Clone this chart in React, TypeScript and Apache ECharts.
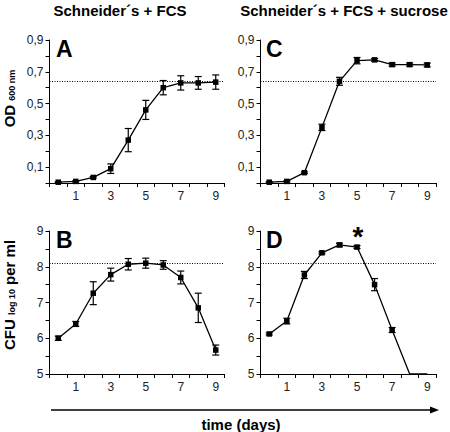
import React, { useEffect, useRef } from "react";
import * as echarts from "echarts";

// ---- data ----
const days = ["0", "1", "2", "3", "4", "5", "6", "7", "8", "9"];
const odFcs = [0.005, 0.01, 0.035, 0.09, 0.27, 0.46, 0.6, 0.63, 0.63, 0.635];
const odFcsErr = [0.003, 0.004, 0.005, 0.03, 0.073, 0.06, 0.045, 0.045, 0.04, 0.045];
const odSuc = [0.005, 0.01, 0.065, 0.35, 0.64, 0.77, 0.775, 0.745, 0.745, 0.743];
const odSucErr = [0.003, 0.004, 0.005, 0.02, 0.025, 0.02, 0.008, 0.01, 0.01, 0.012];
const cfuFcs = [6.0, 6.4, 7.26, 7.78, 8.07, 8.1, 8.05, 7.7, 6.85, 5.67];
const cfuFcsErr = [0.06, 0.07, 0.32, 0.18, 0.16, 0.14, 0.12, 0.18, 0.41, 0.14];
const cfuSuc = [6.12, 6.48, 7.77, 8.39, 8.61, 8.55, 7.5, 6.23, 5, 5];
const cfuSucErr: (number | null)[] = [0.03, 0.08, 0.1, 0.03, 0.05, 0.04, 0.17, 0.07, null, null];
const cfuSucMarker = [true, true, true, true, true, true, true, true, false, false];
const odThreshold = 0.635;
const cfuThreshold = 8.1;
const titles = ["Schneider\u00b4s + FCS", "Schneider\u00b4s + FCS + sucrose"];
const panelLetters = ["A", "B", "C", "D"];

const FONT = "'Liberation Sans', Arial, Helvetica, sans-serif";

export default function App() {
  const ref = useRef<HTMLDivElement>(null);
  useEffect(() => {
    if (!ref.current) return;
    const chart = echarts.init(ref.current, null, { renderer: "svg" });

    const grids = [
      { left: 49.5, top: 40, width: 175, height: 143 },
      { left: 49.5, top: 231, width: 175, height: 143 },
      { left: 260.5, top: 40, width: 175.5, height: 143 },
      { left: 260.5, top: 231, width: 175.5, height: 143 },
    ];

    const xAxes = grids.map((_, i) => ({
      type: "category",
      gridIndex: i,
      data: days,
      boundaryGap: true,
      axisLine: { show: true, lineStyle: { color: "#000", width: 1 } },
      axisTick: { show: true, interval: 0, length: 4, lineStyle: { color: "#000" } },
      axisLabel: {
        interval: (idx: number) => idx % 2 === 1,
        margin: 7,
        fontSize: 12,
        color: "#222",
        fontFamily: FONT,
      },
      splitLine: { show: false },
    }));

    const odFormatter = (v: number) => {
      const k = Math.round(v * 10);
      return k % 2 === 1 ? (k / 10).toFixed(1).replace(".", ",") : "";
    };
    const cfuFormatter = (v: number) => {
      const k = Math.round(v * 2);
      return k % 2 === 0 ? String(k / 2) : "";
    };

    const yAxes = grids.map((_, i) => {
      const isOd = i === 0 || i === 2;
      return {
        type: "value",
        gridIndex: i,
        min: isOd ? 0 : 5,
        max: isOd ? 0.9 : 9,
        interval: isOd ? 0.1 : 0.5,
        axisLine: { show: true, lineStyle: { color: "#000", width: 1 } },
        axisTick: { show: true, length: 4, lineStyle: { color: "#000" } },
        axisLabel: {
          formatter: isOd ? odFormatter : cfuFormatter,
          margin: 6,
          fontSize: 12,
          color: "#222",
          fontFamily: FONT,
        },
        splitLine: { show: false },
      };
    });

    const errRender = (params: any, api: any) => {
      const x = api.value(0);
      const v = api.value(1);
      const e = api.value(2);
      const top = api.coord([x, v + e]);
      const bot = api.coord([x, v - e]);
      const w = 3.5;
      const st = { stroke: "#000", lineWidth: 1.2 };
      return {
        type: "group",
        children: [
          { type: "line", shape: { x1: top[0], y1: top[1], x2: bot[0], y2: bot[1] }, style: st },
          { type: "line", shape: { x1: top[0] - w, y1: top[1], x2: top[0] + w, y2: top[1] }, style: st },
          { type: "line", shape: { x1: bot[0] - w, y1: bot[1], x2: bot[0] + w, y2: bot[1] }, style: st },
        ],
      };
    };

    const panels = [
      { vals: odFcs, errs: odFcsErr as (number | null)[], thr: odThreshold, markers: null as boolean[] | null },
      { vals: cfuFcs, errs: cfuFcsErr as (number | null)[], thr: cfuThreshold, markers: null },
      { vals: odSuc, errs: odSucErr as (number | null)[], thr: odThreshold, markers: null },
      { vals: cfuSuc, errs: cfuSucErr, thr: cfuThreshold, markers: cfuSucMarker },
    ];

    const series: any[] = [];
    panels.forEach((p, i) => {
      series.push({
        type: "custom",
        xAxisIndex: i,
        yAxisIndex: i,
        renderItem: errRender,
        encode: { x: 0, y: 1 },
        data: p.errs
          .map((e, k) => (e == null ? null : [k, p.vals[k], e]))
          .filter((d) => d != null),
        z: 2,
      });
      series.push({
        type: "line",
        xAxisIndex: i,
        yAxisIndex: i,
        data: p.vals.map((v, k) =>
          p.markers && !p.markers[k] ? { value: v, symbol: "none" } : v
        ),
        symbol: "rect",
        symbolSize: 5.5,
        showSymbol: true,
        itemStyle: { color: "#000" },
        lineStyle: { color: "#000", width: 1.3 },
        z: 3,
        markLine: {
          silent: true,
          symbol: "none",
          label: { show: false },
          lineStyle: { type: [1, 1.5], color: "#000", width: 1, opacity: 1 },
          data: [{ yAxis: p.thr }],
        },
      });
    });

    const letterPos = [
      [56, 48.5],
      [56, 240],
      [266, 49],
      [266, 240],
    ];

    const graphic: any[] = [
      {
        type: "text",
        x: 120,
        y: 10.5,
        style: { text: titles[0], font: `bold 15px ${FONT}`, fill: "#000", align: "center", verticalAlign: "middle" },
      },
      {
        type: "text",
        x: 344,
        y: 10.5,
        style: { text: titles[1], font: `bold 15px ${FONT}`, fill: "#000", align: "center", verticalAlign: "middle" },
      },
      ...panelLetters.map((l, i) => ({
        type: "text",
        x: letterPos[i][0],
        y: letterPos[i][1],
        style: { text: l, font: `bold 23px ${FONT}`, fill: "#000", align: "left", verticalAlign: "middle" },
      })),
      {
        type: "text",
        x: 358,
        y: 236,
        style: { text: "*", font: `bold 28px ${FONT}`, fill: "#000", align: "center", verticalAlign: "middle" },
      },
      {
        type: "text",
        x: 9,
        y: 98.5,
        rotation: Math.PI / 2,
        style: {
          text: "{a|OD} {b|600 nm}",
          align: "center",
          verticalAlign: "middle",
          font: `bold 15px ${FONT}`,
          fill: "#000",
          rich: {
            a: { font: `bold 15px ${FONT}`, fill: "#000" },
            b: { font: `bold 9px ${FONT}`, fill: "#000", verticalAlign: "bottom" },
          },
        },
      },
      {
        type: "text",
        x: 9,
        y: 295,
        rotation: Math.PI / 2,
        style: {
          text: "{a|CFU} {b|log 10} {a|per ml}",
          align: "center",
          verticalAlign: "middle",
          font: `bold 15px ${FONT}`,
          fill: "#000",
          rich: {
            a: { font: `bold 15px ${FONT}`, fill: "#000" },
            b: { font: `bold 9px ${FONT}`, fill: "#000", verticalAlign: "bottom" },
          },
        },
      },
      {
        type: "line",
        shape: { x1: 51, y1: 410, x2: 432, y2: 410 },
        style: { stroke: "#000", lineWidth: 1.3 },
      },
      {
        type: "polygon",
        shape: { points: [[430, 406.5], [439, 410], [430, 413.5]] },
        style: { fill: "#000" },
      },
      {
        type: "text",
        x: 241,
        y: 424,
        style: { text: "time (days)", font: `bold 15px ${FONT}`, fill: "#000", align: "center", verticalAlign: "middle" },
      },
    ];

    chart.setOption({
      animation: false,
      backgroundColor: "#fff",
      grid: grids,
      xAxis: xAxes,
      yAxis: yAxes,
      series,
      graphic,
    });

    return () => chart.dispose();
  }, []);

  return (
    <div
      ref={ref}
      style={{ position: "absolute", left: 0, top: 0, width: 450, height: 432 }}
    />
  );
}
